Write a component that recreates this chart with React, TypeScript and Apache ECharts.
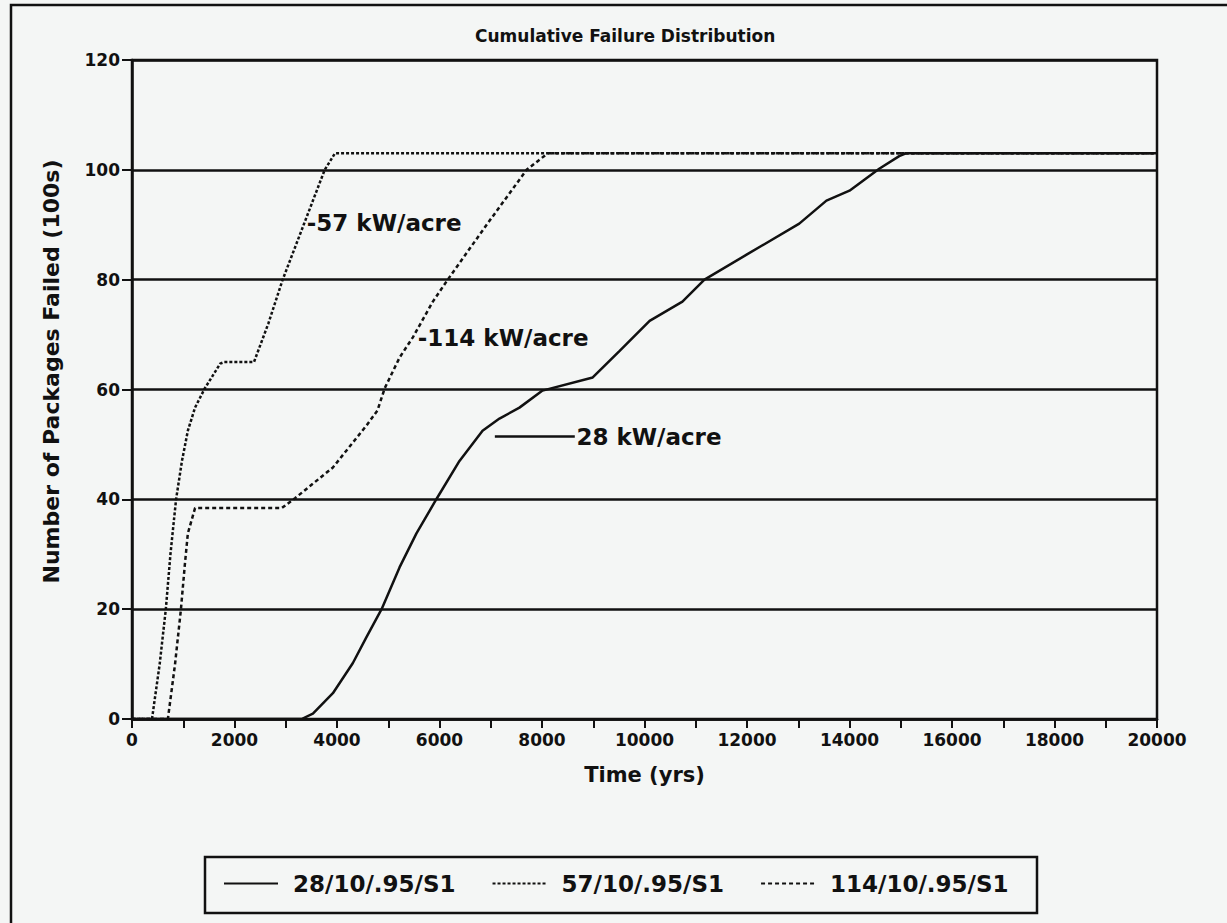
import React, { useEffect, useRef } from "react";
import * as echarts from "echarts";

// Tick labels / categories
const xTickLabels = ["0", "2000", "4000", "6000", "8000", "10000", "12000", "14000", "16000", "18000", "20000"];
const yTickLabels = ["0", "20", "40", "60", "80", "100", "120"];

const seriesNames = ["28/10/.95/S1", "57/10/.95/S1", "114/10/.95/S1"];

// 28 kW/acre (solid)
const years28 = [0, 3310, 3530, 3920, 4310, 4580, 4870, 5220, 5550, 5950, 6390, 6840, 7170, 7560, 8010, 8990, 9510, 10100, 10740, 11170, 12000, 13020, 13550, 14000, 14580, 14970, 15100, 20000];
const pkgs28 = [0, 0, 1, 4.7, 10.2, 15, 20, 27.6, 33.8, 40.2, 47, 52.5, 54.7, 56.7, 59.8, 62.2, 67, 72.5, 76, 80, 84.6, 90.2, 94.4, 96.2, 100.2, 102.5, 103, 103];

// 57 kW/acre (dotted)
const years57 = [0, 390, 540, 660, 750, 860, 975, 1090, 1230, 1420, 1720, 1800, 2380, 2660, 2940, 3350, 3760, 3960, 20000];
const pkgs57 = [0, 0, 10, 20, 30, 40, 47, 52.5, 56.7, 60.2, 64.7, 65, 65, 72, 80, 90, 100, 103, 103];

// 114 kW/acre (dashed)
const years114 = [0, 700, 840, 955, 1030, 1090, 1230, 2920, 3180, 3920, 4580, 4790, 4930, 5220, 5480, 5870, 6160, 6920, 7700, 8110, 20000];
const pkgs114 = [0, 0, 10, 20, 28, 33.8, 38.4, 38.4, 40.2, 45.8, 53.5, 56.2, 60.2, 65.8, 69.5, 76, 80, 90, 100, 103, 103];

// Curve annotations (data coordinates)
const label57 = { text: "-57 kW/acre", x: 3410, y: 90.4 };
const label114 = { text: "-114 kW/acre", x: 5575, y: 69.3 };
const label28 = { text: "28 kW/acre", x: 8670, y: 51.3 };
const leader28 = { x1: 7080, x2: 8640, y: 51.5 };

const FONT = "DejaVu Sans";
const INK = "#111";

function zip(xs: number[], ys: number[]) {
  return xs.map((x, i) => [x, ys[i]]);
}

export default function App() {
  const ref = useRef<HTMLDivElement>(null);
  useEffect(() => {
    if (!ref.current) return;
    const chart = echarts.init(ref.current, null, { renderer: "svg" });
    const labelStyle = {
      show: true,
      position: "right" as const,
      distance: 0,
      color: INK,
      fontFamily: FONT,
      fontWeight: "bold" as const,
      fontSize: 23,
    };
    const mk = (l: { text: string; x: number; y: number }) => ({
      symbol: "circle",
      symbolSize: 0.1,
      silent: true,
      data: [{ coord: [l.x, l.y], value: l.text, label: { ...labelStyle, formatter: l.text } }],
    });
    chart.setOption({
      animation: false,
      backgroundColor: "#f4f6f5",
      title: {
        text: "Cumulative Failure Distribution",
        left: 470,
        top: 22,
        textStyle: { fontFamily: FONT, fontWeight: "bold", fontSize: 17, color: INK },
      },
      grid: {
        left: 132,
        right: 70,
        top: 60,
        bottom: 204,
        show: true,
        borderColor: INK,
        borderWidth: 2.5,
      },
      legend: {
        left: 218,
        top: 867,
        data: seriesNames,
        itemWidth: 54,
        itemHeight: 14,
        itemGap: 36,
        itemStyle: { opacity: 0 },
        textStyle: {
          fontFamily: FONT,
          fontWeight: "bold",
          fontSize: 23,
          color: INK,
          padding: [0, 0, 0, 10],
        },
      },
      graphic: [
        {
          type: "rect",
          z: -1,
          shape: { x: 205, y: 857, width: 832, height: 56 },
          style: { fill: "none", stroke: INK, lineWidth: 2.5 },
        },
        {
          type: "rect",
          z: -1,
          shape: { x: 11, y: 5, width: 1400, height: 1200 },
          style: { fill: "none", stroke: INK, lineWidth: 2.5 },
        },
      ],
      xAxis: {
        type: "value",
        min: 0,
        max: 20000,
        interval: 2000,
        name: "Time (yrs)",
        nameLocation: "middle",
        nameGap: 45,
        nameTextStyle: { fontFamily: FONT, fontWeight: "bold", fontSize: 21, color: INK },
        axisLine: { show: true, lineStyle: { color: INK, width: 2.5 } },
        axisTick: { show: true, length: 9, lineStyle: { color: INK, width: 2 } },
        minorTick: { show: true, splitNumber: 2, length: 9, lineStyle: { color: INK, width: 2 } },
        axisLabel: {
          margin: 12,
          fontFamily: FONT,
          fontWeight: "bold",
          fontSize: 17,
          color: INK,
          formatter: (v: number) => xTickLabels[Math.round(v / 2000)] ?? String(v),
        },
        splitLine: { show: false },
      },
      yAxis: {
        type: "value",
        min: 0,
        max: 120,
        interval: 20,
        name: "Number of Packages Failed (100s)",
        nameLocation: "middle",
        nameGap: 70,
        nameTextStyle: {
          fontFamily: FONT,
          fontWeight: "bold",
          fontSize: 22,
          color: INK,
          padding: [0, 0, 0, 36],
        },
        axisLine: { show: true, lineStyle: { color: INK, width: 2.5 } },
        axisTick: { show: true, length: 10, lineStyle: { color: INK, width: 2 } },
        axisLabel: {
          margin: 12,
          fontFamily: FONT,
          fontWeight: "bold",
          fontSize: 17,
          color: INK,
          formatter: (v: number) => yTickLabels[Math.round(v / 20)] ?? String(v),
        },
        splitLine: { show: true, lineStyle: { color: INK, width: 2.5 } },
      },
      series: [
        {
          name: seriesNames[0],
          type: "line",
          symbol: "none",
          data: zip(years28, pkgs28),
          lineStyle: { color: INK, width: 2.5, type: "solid" },
          itemStyle: { color: INK },
          markPoint: mk(label28),
          markLine: {
            symbol: "none",
            silent: true,
            label: { show: false },
            lineStyle: { color: INK, width: 2.5, type: "solid" },
            data: [[{ coord: [leader28.x1, leader28.y] }, { coord: [leader28.x2, leader28.y] }]],
          },
        },
        {
          name: seriesNames[1],
          type: "line",
          symbol: "none",
          data: zip(years57, pkgs57),
          lineStyle: { color: INK, width: 2.5, type: [3, 2] },
          itemStyle: { color: INK },
          markPoint: mk(label57),
        },
        {
          name: seriesNames[2],
          type: "line",
          symbol: "none",
          data: zip(years114, pkgs114),
          lineStyle: { color: INK, width: 2.5, type: [4, 3] },
          itemStyle: { color: INK },
          markPoint: mk(label114),
        },
      ],
    });
    return () => chart.dispose();
  }, []);
  return (
    <div
      ref={ref}
      style={{ position: "fixed", left: 0, top: 0, width: 1227, height: 923 }}
    />
  );
}
